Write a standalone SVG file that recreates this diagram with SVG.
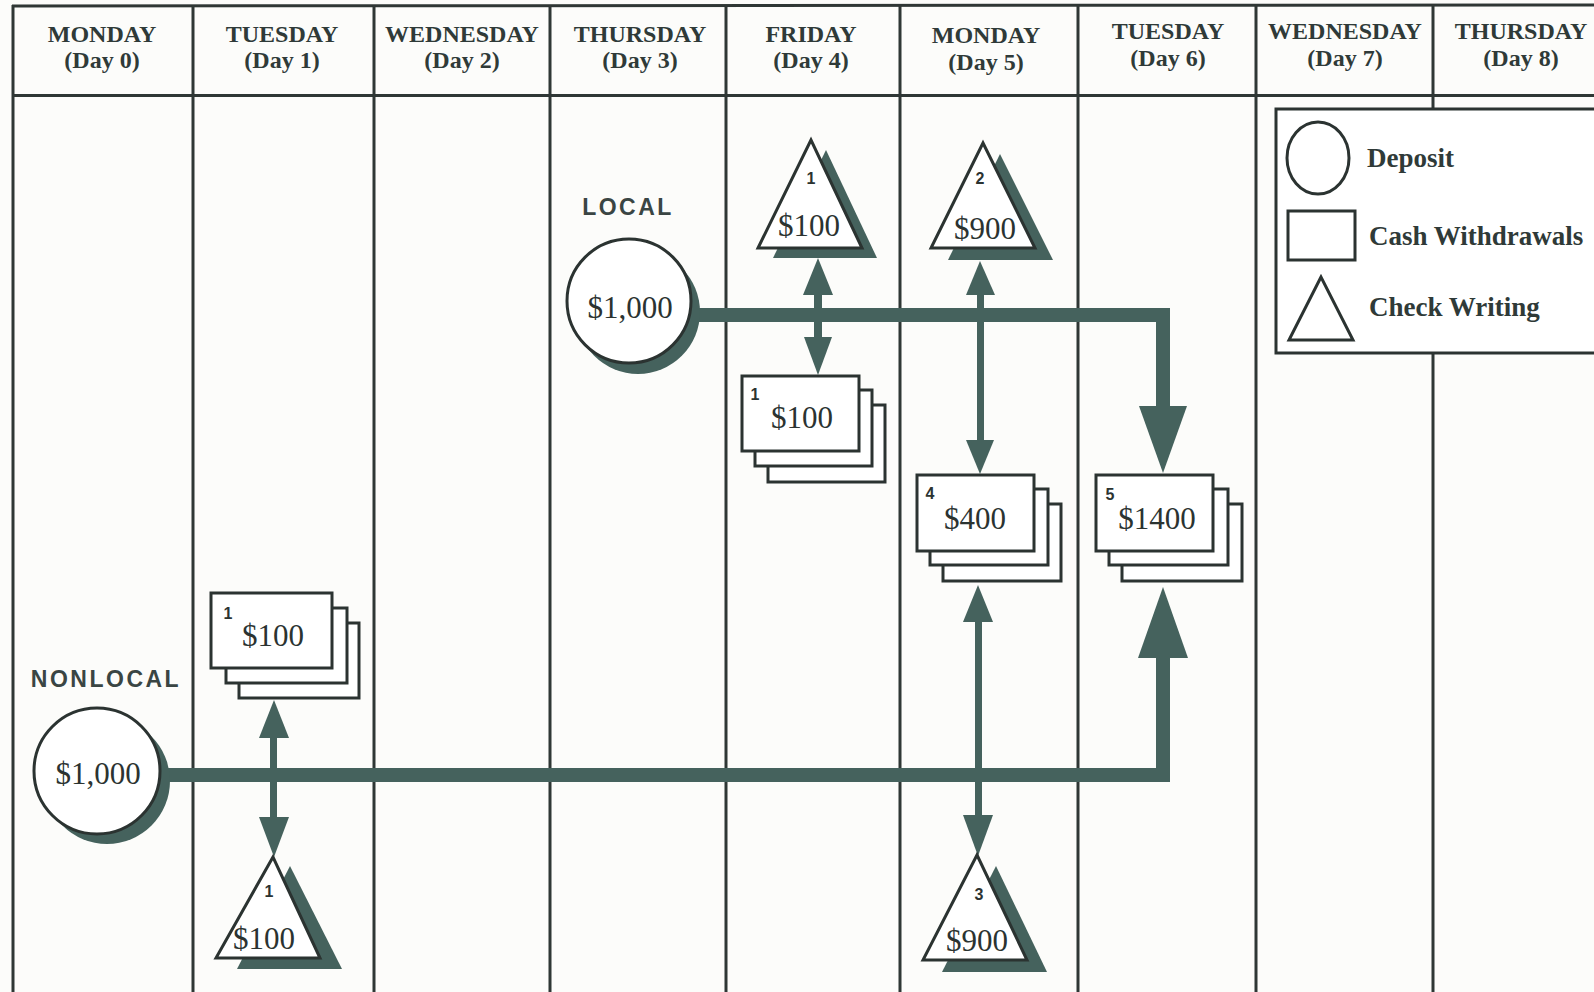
<svg xmlns="http://www.w3.org/2000/svg" width="1594" height="992" viewBox="0 0 1594 992">
<defs>
<style>
.bg{fill:#fcfcfa}
.grid{stroke:#2f3735;stroke-width:3;fill:none}
.hdr{font-family:"Liberation Serif",serif;font-weight:bold;font-size:24px;fill:#2f3a38;text-anchor:middle}
.fill{fill:#45625d;stroke:none}
.shadow{fill:#45625d;stroke:none}
.shape{fill:#ffffff;stroke:#2b3331;stroke-width:3}
.amt{font-family:"Liberation Serif",serif;font-size:31px;fill:#2b3331;text-anchor:middle}
.num{font-family:"Liberation Sans",sans-serif;font-weight:bold;font-size:16px;fill:#2b3331;text-anchor:middle}
.tag{font-family:"Liberation Sans",sans-serif;font-weight:bold;font-size:23px;letter-spacing:2.5px;fill:#3a4543;text-anchor:middle}
.leg{font-family:"Liberation Serif",serif;font-weight:bold;font-size:27px;fill:#2f3a38}
</style>
</defs>
<rect class="bg" x="0" y="0" width="1594" height="992"/>

<g id="grid">
  <line class="grid" x1="12" y1="6" x2="1594" y2="5" stroke-width="4"/>
  <line class="grid" x1="12" y1="95.5" x2="1594" y2="95.5" stroke-width="5"/>
  <line class="grid" x1="13" y1="5" x2="13" y2="992"/>
  <line class="grid" x1="193" y1="5" x2="193" y2="992"/>
  <line class="grid" x1="374" y1="5" x2="374" y2="992"/>
  <line class="grid" x1="550" y1="5" x2="550" y2="992"/>
  <line class="grid" x1="726" y1="5" x2="726" y2="992"/>
  <line class="grid" x1="900" y1="5" x2="900" y2="992" stroke-width="5"/>
  <line class="grid" x1="1078" y1="5" x2="1078" y2="992"/>
  <line class="grid" x1="1256" y1="5" x2="1256" y2="992"/>
  <line class="grid" x1="1433" y1="5" x2="1433" y2="992"/>
</g>

<g id="headers">
  <text class="hdr" x="102" y="42">MONDAY</text><text class="hdr" x="102" y="68">(Day 0)</text>
  <text class="hdr" x="282" y="42">TUESDAY</text><text class="hdr" x="282" y="68">(Day 1)</text>
  <text class="hdr" x="462" y="42">WEDNESDAY</text><text class="hdr" x="462" y="68">(Day 2)</text>
  <text class="hdr" x="640" y="42">THURSDAY</text><text class="hdr" x="640" y="68">(Day 3)</text>
  <text class="hdr" x="811" y="42">FRIDAY</text><text class="hdr" x="811" y="68">(Day 4)</text>
  <text class="hdr" x="986" y="43">MONDAY</text><text class="hdr" x="986" y="70">(Day 5)</text>
  <text class="hdr" x="1168" y="39">TUESDAY</text><text class="hdr" x="1168" y="66">(Day 6)</text>
  <text class="hdr" x="1345" y="39">WEDNESDAY</text><text class="hdr" x="1345" y="66">(Day 7)</text>
  <text class="hdr" x="1521" y="39">THURSDAY</text><text class="hdr" x="1521" y="66">(Day 8)</text>
</g>

<g id="connectors">
  <rect class="fill" x="670" y="308" width="500" height="14"/>
  <rect class="fill" x="1156" y="308" width="14" height="102"/>
  <polygon class="fill" points="1139,406 1187,406 1163,473"/>
  <rect class="fill" x="150" y="768" width="1020" height="14"/>
  <rect class="fill" x="1156" y="652" width="14" height="130"/>
  <polygon class="fill" points="1138,658 1188,658 1163,587"/>
  <rect class="fill" x="814" y="290" width="8" height="50"/>
  <polygon class="fill" points="803,295 833,295 818,258"/>
  <polygon class="fill" points="804,337 832,337 818,375"/>
  <rect class="fill" x="977" y="290" width="7" height="155"/>
  <polygon class="fill" points="966,295 995,295 980,261"/>
  <polygon class="fill" points="966,440 994,440 980,474"/>
  <rect class="fill" x="975" y="618" width="7" height="200"/>
  <polygon class="fill" points="963,622 993,622 978,585"/>
  <polygon class="fill" points="963,815 993,815 978,856"/>
  <rect class="fill" x="270" y="735" width="7" height="85"/>
  <polygon class="fill" points="259,738 289,738 274,700"/>
  <polygon class="fill" points="259,817 289,817 274,857"/>
</g>

<g id="local-deposit">
  <text class="tag" x="628" y="215">LOCAL</text>
  <circle class="shadow" cx="638" cy="312" r="62"/>
  <circle class="shape" cx="629" cy="301" r="62"/>
  <text class="amt" x="630" y="318">$1,000</text>
</g>

<g id="nonlocal-deposit">
  <text class="tag" x="106" y="687">NONLOCAL</text>
  <circle class="shadow" cx="107" cy="781" r="63"/>
  <circle class="shape" cx="97" cy="771" r="63"/>
  <text class="amt" x="98" y="784">$1,000</text>
</g>

<g id="check-fri-1">
  <polygon class="shadow" points="826,150 773,258 877,258"/>
  <polygon class="shape" points="811,140 758,248 862,248"/>
  <text class="num" x="811" y="184">1</text>
  <text class="amt" x="809" y="236">$100</text>
</g>

<g id="cash-fri-1">
  <rect class="shape" x="768" y="405" width="117" height="77"/>
  <rect class="shape" x="755" y="390" width="117" height="76"/>
  <rect class="shape" x="742" y="376" width="117" height="75"/>
  <text class="num" x="755" y="400">1</text>
  <text class="amt" x="802" y="428">$100</text>
</g>

<g id="check-mon-2">
  <polygon class="shadow" points="1000,154 948,260 1053,260"/>
  <polygon class="shape" points="983,143 931,248 1035,248"/>
  <text class="num" x="980" y="184">2</text>
  <text class="amt" x="985" y="239">$900</text>
</g>

<g id="cash-mon-4">
  <rect class="shape" x="943" y="504" width="118" height="77"/>
  <rect class="shape" x="930" y="489" width="118" height="76"/>
  <rect class="shape" x="917" y="475" width="117" height="76"/>
  <text class="num" x="930" y="499">4</text>
  <text class="amt" x="975" y="529">$400</text>
</g>

<g id="cash-tue-5">
  <rect class="shape" x="1122" y="504" width="120" height="77"/>
  <rect class="shape" x="1109" y="489" width="119" height="76"/>
  <rect class="shape" x="1096" y="475" width="117" height="76"/>
  <text class="num" x="1110" y="500">5</text>
  <text class="amt" x="1157" y="529">$1400</text>
</g>

<g id="check-mon-3">
  <polygon class="shadow" points="996,866 942,972 1047,972"/>
  <polygon class="shape" points="977,855 923,960 1027,960"/>
  <text class="num" x="979" y="900">3</text>
  <text class="amt" x="977" y="951">$900</text>
</g>

<g id="cash-tue-1">
  <rect class="shape" x="239" y="623" width="120" height="75"/>
  <rect class="shape" x="226" y="608" width="121" height="75"/>
  <rect class="shape" x="211" y="593" width="121" height="75"/>
  <text class="num" x="228" y="619">1</text>
  <text class="amt" x="273" y="646">$100</text>
</g>

<g id="check-tue-1">
  <polygon class="shadow" points="290,866 237,969 342,969"/>
  <polygon class="shape" points="273,857 216,958 320,958"/>
  <text class="num" x="269" y="897">1</text>
  <text class="amt" x="264" y="949">$100</text>
</g>

<g id="legend">
  <rect class="shape" x="1276" y="109" width="340" height="244"/>
  <ellipse class="shape" cx="1318" cy="158" rx="31" ry="36"/>
  <text class="leg" x="1367" y="167">Deposit</text>
  <rect class="shape" x="1288" y="211" width="67" height="49"/>
  <text class="leg" x="1369" y="245">Cash Withdrawals</text>
  <polygon class="shape" points="1321,277 1289,340 1353,340"/>
  <text class="leg" x="1369" y="316">Check Writing</text>
</g>
</svg>
